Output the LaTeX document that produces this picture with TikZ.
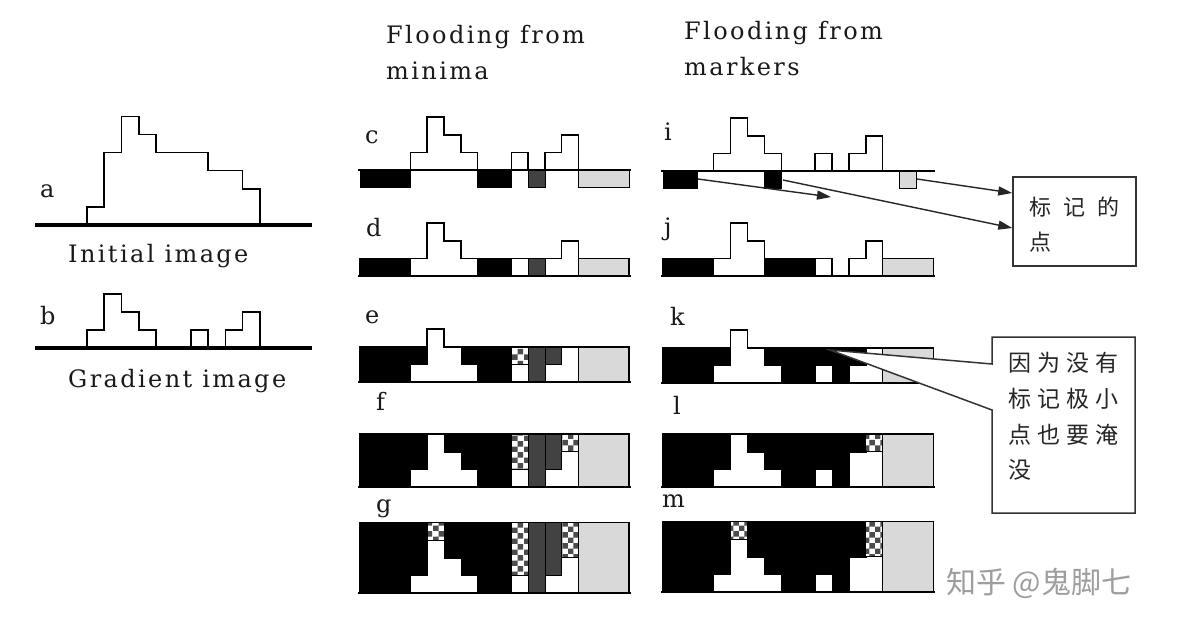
\documentclass[tikz,border=0pt]{standalone}
\usepackage{fontspec}
\setmainfont{DejaVu Serif}
\newfontfamily\lbfont[LetterSpace=10]{DejaVu Serif}
\newfontfamily\cjk{Noto Sans CJK SC}
\usetikzlibrary{patterns,arrows.meta}
\tikzset{
  blk/.style={fill=black,draw=black,line width=0.6pt},
  wht/.style={fill=white,draw=black,line width=0.8pt},
  drk/.style={fill=black!74,draw=black,line width=0.8pt},
  lgt/.style={fill=black!15,draw=black,line width=0.8pt},
  dam/.style={preaction={fill=white},pattern=checkerboard,pattern color=black!70,draw=black,line width=0.8pt},
  prof/.style={line width=1.5pt,line join=miter},
  baseln/.style={line width=2.8pt},
  lbl/.style={font=\lbfont\fontsize{24}{26}\selectfont,anchor=base west,inner sep=0pt,text=black!90},
  arr/.style={line width=1.4pt,draw=black!85,-{Triangle[length=14pt,width=9pt]}},
  cbox/.style={draw=black!80,line width=1.5pt,fill=white},
  ctext/.style={font=\cjk\fontsize{22}{35}\selectfont,anchor=west,inner sep=0pt,align=left,text=black!85}
}
\newcommand\wspanel[6]{%
  \begin{scope}[shift={(#1pt,-#2pt)},x=#3pt,y=17.6pt]
    \foreach \a/\b/\g/\s in {#5}{\path[\s] (\a,\g) rectangle (\b,#4);}
    \draw[prof] #6;
    \draw[baseln] (-0.1,0) -- (16.1,0);
  \end{scope}}
\begin{document}
\begin{tikzpicture}[x=1pt,y=-1pt]
\useasboundingbox[fill=white] (0,0) rectangle (1200,633);

% titles
\node[lbl] (t1a) at (386,43) {Flooding from};
\node[lbl] (t1b) at (386,79) {minima};
\node[lbl] (t2a) at (684,39) {Flooding from};
\node[lbl] (t2b) at (684,75) {markers};

% a : initial image
\begin{scope}[shift={(35pt,-225pt)},x=17.31pt,y=18.1pt]
  \draw[prof] (3,0)--(3,1)--(4,1)--(4,4)--(5,4)--(5,6)--(6,6)--(6,5)--(7,5)--(7,4)--(10,4)--(10,3)--(12,3)--(12,2)--(13,2)--(13,0);
  \draw[line width=3.6pt] (0,0)--(16,0);
\end{scope}
\node[lbl] (la) at (40,197) {a};
\node[lbl] (ta) at (68,262) {Initial image};

% b : gradient image
\begin{scope}[shift={(35pt,-348pt)},x=17.31pt,y=18pt]
  \draw[prof] (3,0)--(3,1)--(4,1)--(4,3)--(5,3)--(5,2)--(6,2)--(6,1)--(7,1)--(7,0)
              (9,0)--(9,1)--(10,1)--(10,0)
              (11,0)--(11,1)--(12,1)--(12,2)--(13,2)--(13,0);
  \draw[line width=3.6pt] (0,0)--(16,0);
\end{scope}
\node[lbl] (lb) at (40,324) {b};
\node[lbl] (tb) at (68,387) {Gradient image};

% left column: flooding from minima
\node[lbl] (lc) at (365,143) {c};
\wspanel{360}{170}{16.81}{0}{0/3/-1/blk,7/9/-1/blk,10/11/-1/drk,13/16/-1/lgt}{(3,0)--(3,1)--(4,1)--(4,3)--(5,3)--(5,2)--(6,2)--(6,1)--(7,1)--(7,0) (9,0)--(9,1)--(10,1)--(10,0) (11,0)--(11,1)--(12,1)--(12,2)--(13,2)--(13,0)}
\node[lbl] (ld) at (366,236) {d};
\wspanel{360}{276}{16.81}{1}{0/3/0/blk,7/9/0/blk,9/10/0/wht,10/11/0/drk,13/16/0/lgt}{(0,0)--(0,1)--(4,1)--(4,3)--(5,3)--(5,2)--(6,2)--(6,1)--(12,1)--(12,2)--(13,2)--(13,1)--(16,1)--(16,0)}
\node[lbl] (le) at (365,323) {e};
\wspanel{360}{382}{16.81}{2}{0/3/0/blk,3/4/1/blk,6/7/1/blk,7/9/0/blk,9/10/1/dam,10/11/0/drk,11/12/1/drk,13/16/0/lgt}{(0,0)--(0,2)--(4,2)--(4,3)--(5,3)--(5,2)--(16,2)--(16,0)}
\node[lbl] (lf) at (376,410) {f};
\wspanel{360}{487}{16.81}{3}{0/3/0/blk,3/4/1/blk,5/6/2/blk,6/7/1/blk,7/9/0/blk,9/10/1/dam,10/11/0/drk,11/12/1/drk,12/13/2/dam,13/16/0/lgt}{(0,0)--(0,3)--(16,3)--(16,0)}
\node[lbl] (lg) at (376,512) {g};
\wspanel{360}{593}{16.81}{4}{0/3/0/blk,3/4/1/blk,4/5/3/dam,5/6/2/blk,6/7/1/blk,7/9/0/blk,9/10/1/dam,10/11/0/drk,11/12/1/drk,12/13/2/dam,13/16/0/lgt}{(0,0)--(0,4)--(16,4)--(16,0)}

% right column: flooding from markers
\node[lbl] (li) at (664,140) {i};
\wspanel{663}{171}{16.9}{0}{0/2/-1/blk,6/7/-1/blk,14/15/-1/lgt}{(3,0)--(3,1)--(4,1)--(4,3)--(5,3)--(5,2)--(6,2)--(6,1)--(7,1)--(7,0) (9,0)--(9,1)--(10,1)--(10,0) (11,0)--(11,1)--(12,1)--(12,2)--(13,2)--(13,0)}
\node[lbl] (lj) at (664,235) {j};
\wspanel{663}{276}{16.9}{1}{0/3/0/blk,6/9/0/blk,9/10/0/wht,13/16/0/lgt}{(0,0)--(0,1)--(4,1)--(4,3)--(5,3)--(5,2)--(6,2)--(6,1)--(10,1)--(10,0) (11,0)--(11,1)--(12,1)--(12,2)--(13,2)--(13,1)--(16,1)--(16,0)}
\node[lbl] (lk) at (670,325) {k};
\wspanel{663}{383}{16.9}{2}{0/3/0/blk,3/4/1/blk,6/7/1/blk,7/9/0/blk,9/10/1/blk,10/11/0/blk,11/12/1/blk,13/16/0/lgt}{(0,0)--(0,2)--(4,2)--(4,3)--(5,3)--(5,2)--(16,2)--(16,0)}
\node[lbl] (ll) at (673,414) {l};
\wspanel{663}{487}{16.9}{3}{0/3/0/blk,3/4/1/blk,5/6/2/blk,6/7/1/blk,7/9/0/blk,9/10/1/blk,10/11/0/blk,11/12/2/blk,12/13/2/dam,13/16/0/lgt}{(0,0)--(0,3)--(16,3)--(16,0)}
\node[lbl] (lm) at (662,507) {m};
\wspanel{663}{592}{16.9}{4}{0/3/0/blk,3/4/1/blk,4/5/3/dam,5/6/2/blk,6/7/1/blk,7/9/0/blk,9/10/1/blk,10/11/0/blk,11/12/2/blk,12/13/2/dam,13/16/0/lgt}{(0,0)--(0,4)--(16,4)--(16,0)}

% marker callout
\node[cbox,minimum width=123pt,minimum height=89pt,inner sep=0pt] (mk) at (1074.5,221.5) {};
\node[ctext] (mkt) at (1029,225) {标\hspace{12pt}记\hspace{12pt}的\\点};
\coordinate (s1) at (698,179);
\coordinate (e1) at (831,197);
\coordinate (s2) at (783,180);
\coordinate (s3) at (917,179);
\draw[arr] (s1) -- (e1);
\draw[arr] (s2) -- ([yshift=-6.5pt]mk.west);
\draw[arr] (s3) -- ([yshift=28.5pt]mk.west);

% second callout
\coordinate (tip) at (830,350);
\path[cbox,line join=miter] (992,337) -- (1135,337) -- (1135,513) -- (992,513) -- (992,410) -- (tip) -- (992,364) -- cycle;
\node[ctext,font=\cjk\fontsize{23}{35.7}\selectfont] (ct) at (1008,416.5) {因\hspace{6pt}为\hspace{6pt}没\hspace{6pt}有\\标\hspace{6pt}记\hspace{6pt}极\hspace{6pt}小\\点\hspace{6pt}也\hspace{6pt}要\hspace{6pt}淹\\没};

% watermark
\node[anchor=west,inner sep=0pt,font=\cjk\fontsize{30}{32}\selectfont,text=black!38] (wm) at (946,583) {知乎 @鬼脚七};
\end{tikzpicture}
\end{document}
